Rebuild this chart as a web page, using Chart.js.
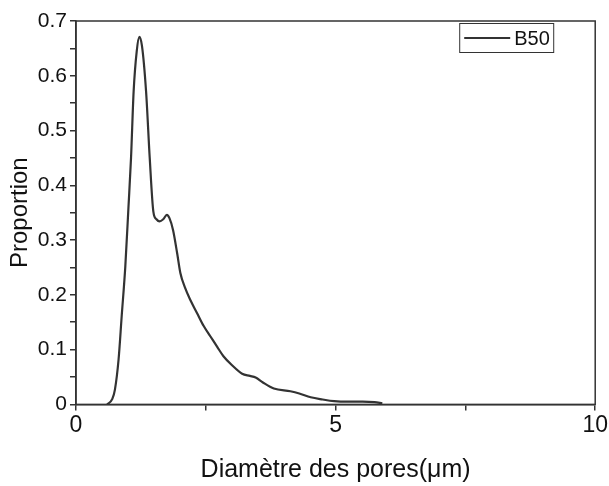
<!DOCTYPE html>
<html>
<head>
<meta charset="utf-8">
<script src="https://cdn.jsdelivr.net/npm/chart.js@4.4.1/dist/chart.umd.min.js"></script>
<style>
  html, body { margin: 0; padding: 0; background: #fff; }
  #wrap { width: 609px; height: 486px; }
</style>
</head>
<body>
<div id="wrap"><canvas id="chart"></canvas></div>
<script>
const diameters = [0.60, 0.70, 0.75, 0.82, 0.88, 0.95, 1.01, 1.06, 1.11, 1.17, 1.22, 1.27, 1.35, 1.42, 1.49, 1.55, 1.61, 1.68, 1.75, 1.80, 1.87, 1.95, 2.01, 2.10, 2.20, 2.33, 2.46, 2.59, 2.72, 2.84, 3.00, 3.20, 3.35, 3.46, 3.60, 3.81, 4.13, 4.30, 4.52, 4.75, 4.97, 5.25, 5.52, 5.75, 5.90];
const proportions = [0, 0.010, 0.027, 0.082, 0.161, 0.252, 0.359, 0.45, 0.571, 0.645, 0.671, 0.655, 0.571, 0.45, 0.352, 0.338, 0.334, 0.338, 0.346, 0.340, 0.318, 0.275, 0.240, 0.213, 0.191, 0.167, 0.143, 0.124, 0.105, 0.088, 0.072, 0.056, 0.052, 0.049, 0.040, 0.029, 0.024, 0.020, 0.013, 0.009, 0.006, 0.005, 0.005, 0.004, 0.002];
const seriesLabel = 'B50';
const xTitle = 'Diamètre des pores(\u03bcm)';
const yTitle = 'Proportion';

const ink = '#333333';
const font = 'Arial, "Liberation Sans", sans-serif';

// box around the plot area
const frame = {
  id: 'frame',
  afterDraw(chart) {
    const { ctx, chartArea: a } = chart;
    ctx.save();
    ctx.strokeStyle = ink;
    ctx.lineWidth = 1.5;
    ctx.strokeRect(a.left, a.top, a.right - a.left, a.bottom - a.top);
    ctx.restore();
  },
};

// legend drawn as a small framed box in the top right corner
const boxLegend = {
  id: 'boxLegend',
  afterDraw(chart) {
    const { ctx, chartArea: a } = chart;
    const ds = chart.data.datasets[0];
    const x = a.right - 136, y = a.top + 2, w = 94, h = 29;
    ctx.save();
    ctx.strokeStyle = ink;
    ctx.lineWidth = 1;
    ctx.strokeRect(x + 0.5, y + 0.5, w, h);
    ctx.lineWidth = 2;
    ctx.beginPath();
    ctx.moveTo(x + 5, y + 15);
    ctx.lineTo(x + 51, y + 15);
    ctx.stroke();
    ctx.fillStyle = '#111';
    ctx.font = '20px ' + font;
    ctx.textBaseline = 'middle';
    ctx.fillText(ds.label, x + 55, y + 16);
    ctx.restore();
  },
};

function isMajor(v, step) {
  const r = v / step;
  return Math.abs(r - Math.round(r)) < 1e-6;
}

new Chart(document.getElementById('chart'), {
  type: 'line',
  data: {
    datasets: [
      {
        label: seriesLabel,
        data: diameters.map((d, i) => ({ x: d, y: proportions[i] })),
        borderColor: ink,
        borderWidth: 2.2,
        pointRadius: 0,
        fill: false,
        cubicInterpolationMode: 'monotone',
      },
    ],
  },
  options: {
    responsive: true,
    maintainAspectRatio: false,
    animation: false,
    layout: { padding: { top: 21, right: 2, left: 6, bottom: 1 } },
    plugins: {
      legend: { display: false },
      tooltip: { enabled: false },
    },
    scales: {
      x: {
        type: 'linear',
        min: 0,
        max: 10,
        border: { display: true, color: ink, width: 1.5 },
        grid: { drawOnChartArea: false, drawTicks: true, tickLength: 6, color: ink, lineWidth: 1.5 },
        ticks: {
          stepSize: 2.5,
          autoSkip: false,
          maxRotation: 0,
          color: '#111',
          padding: 1,
          font: { family: font, size: 23 },
          callback: (v) => (isMajor(v, 5) ? String(v) : ''),
        },
        title: {
          display: true,
          text: xTitle,
          color: '#111',
          font: { family: font, size: 25 },
          padding: { top: 15, bottom: 0 },
        },
      },
      y: {
        min: 0,
        max: 0.7,
        border: { display: true, color: ink, width: 1.5 },
        grid: { drawOnChartArea: false, drawTicks: true, tickLength: 6, color: ink, lineWidth: 1.5 },
        ticks: {
          stepSize: 0.05,
          autoSkip: false,
          color: '#111',
          padding: 3,
          font: { family: font, size: 21 },
          callback: (v) => (isMajor(v, 0.1) ? (v === 0 ? '0' : v.toFixed(1)) : ''),
        },
        title: {
          display: true,
          text: yTitle,
          color: '#111',
          font: { family: font, size: 24 },
          padding: { top: 0, bottom: 0 },
        },
      },
    },
  },
  plugins: [frame, boxLegend],
});
</script>
</body>
</html>
